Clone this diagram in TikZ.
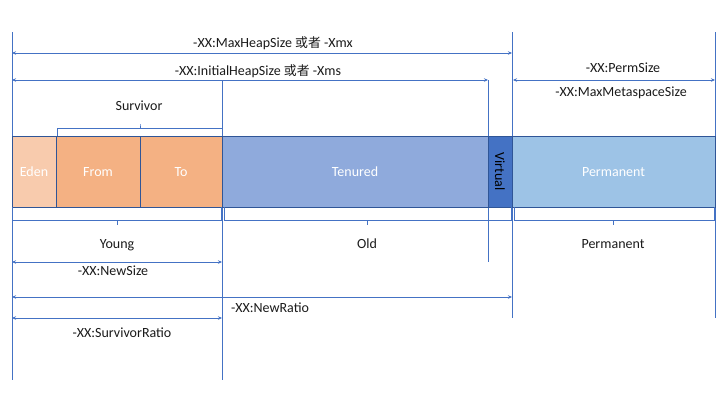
\documentclass[tikz,border=0pt]{standalone}
\usepackage{fontspec}
\setmainfont{Carlito}
\newfontfamily\cjk{Noto Sans CJK SC}[Scale=0.92]
\usetikzlibrary{arrows.meta}
\definecolor{ln}{HTML}{4472C4}
\definecolor{bd}{HTML}{2F5597}
\definecolor{eden}{HTML}{F8CBAD}
\definecolor{surv}{HTML}{F4B183}
\definecolor{ten}{HTML}{8FAADC}
\definecolor{virt}{HTML}{4472C4}
\definecolor{perm}{HTML}{9DC3E6}
\definecolor{txt}{HTML}{1A1A1A}
\begin{document}
\begin{tikzpicture}[x=1pt,y=-1pt,
  font=\fontsize{14}{16}\selectfont,
  vline/.style={draw=ln, line width=0.9pt},
  dim/.style={draw=ln, line width=0.9pt, {Stealth[length=4pt,width=3.5pt]}-{Stealth[length=4pt,width=3.5pt]}},
  brk/.style={draw=ln, line width=0.9pt},
  seg/.style={draw=bd, line width=1pt, minimum height=71pt, inner sep=0pt, outer sep=0pt, anchor=north west, text=white, text height=9.5pt, text depth=0pt},
  lbl/.style={text=txt, inner sep=1pt, text height=9.5pt, text depth=0.5pt}]
\useasboundingbox (0,0) rectangle (720,405);
% vertical guide lines
\coordinate (L0) at (12,32);  \coordinate (L1) at (12,380);
\coordinate (Y0) at (222,80); \coordinate (Y1) at (222,380);
\coordinate (V0) at (488,80); \coordinate (V1) at (488,262);
\coordinate (P0) at (512,32); \coordinate (P1) at (512,318);
\coordinate (R0) at (715,32); \coordinate (R1) at (715,318);
\draw[vline] (L0) -- (L1);
\draw[vline] (Y0) -- (Y1);
\draw[vline] (V0) -- (V1);
\draw[vline] (P0) -- (P1);
\draw[vline] (R0) -- (R1);
% top dimension arrows
\coordinate (mxa) at (12,53);  \coordinate (mxb) at (512,53);
\draw[dim] (mxa) -- (mxb);
\node[lbl] (mx) at (273,43) {-XX:MaxHeapSize {\cjk 或者} -Xmx};
\coordinate (msa) at (12,80);  \coordinate (msb) at (488,80);
\draw[dim] (msa) -- (msb);
\node[lbl] (ms) at (258,71) {-XX:InitialHeapSize {\cjk 或者} -Xms};
\coordinate (psa) at (513,80);  \coordinate (psb) at (715,80);
\draw[dim] (psa) -- (psb);
\node[lbl] (ps) at (623,68) {-XX:PermSize};
\node[lbl] (mm) at (621,92) {-XX:MaxMetaspaceSize};
% survivor bracket
\coordinate (sa) at (57,136); \coordinate (sb) at (222,136);
\draw[brk] (sa) -- ++(0,-8) -- (140,128) -- ++(0,-4) -- (140,128) -- (222,128) -- (sb);
\node[lbl] (sv) at (139,106) {Survivor};
% segments
\node[seg, fill=eden, minimum width=44pt] (eden) at (12,136) {Eden};
\node[seg, fill=surv, minimum width=84pt] (from) at (56,136) {From};
\node[seg, fill=surv, minimum width=82pt] (to) at (140,136) {To};
\node[seg, fill=ten, minimum width=266pt] (ten) at (222,136) {Tenured};
\node[seg, fill=virt, minimum width=24pt] (virt) at (488,136) {};
\node[rotate=-90, text=black] at (virt.center) {Virtual};
\node[seg, fill=perm, minimum width=203pt] (perm) at (512,136) {Permanent};
% bottom brackets
\draw[brk] (12,207) -- (12,220) -- (221,220) -- (221,207);
\draw[brk] (117,220) -- (117,225);
\node[lbl] (yg) at (117,244) {Young};
\draw[brk] (224,207) -- (224,220) -- (511,220) -- (511,207);
\draw[brk] (367,220) -- (367,225);
\node[lbl] (od) at (367,244) {Old};
\draw[brk] (514,207) -- (514,220) -- (714,220) -- (714,207);
\draw[brk] (613,220) -- (613,225);
\node[lbl] (pm) at (613,244) {Permanent};
% bottom dimension arrows
\coordinate (nsa) at (12,262); \coordinate (nsb) at (222,262);
\draw[dim] (nsa) -- (nsb);
\node[lbl] (ns) at (113,271) {-XX:NewSize};
\coordinate (nra) at (12,297); \coordinate (nrb) at (512,297);
\draw[dim] (nra) -- (nrb);
\node[lbl] (nr) at (270,308) {-XX:NewRatio};
\coordinate (sra) at (12,318); \coordinate (srb) at (222,318);
\draw[dim] (sra) -- (srb);
\node[lbl] (sr) at (122,333) {-XX:SurvivorRatio};
\end{tikzpicture}
\end{document}
